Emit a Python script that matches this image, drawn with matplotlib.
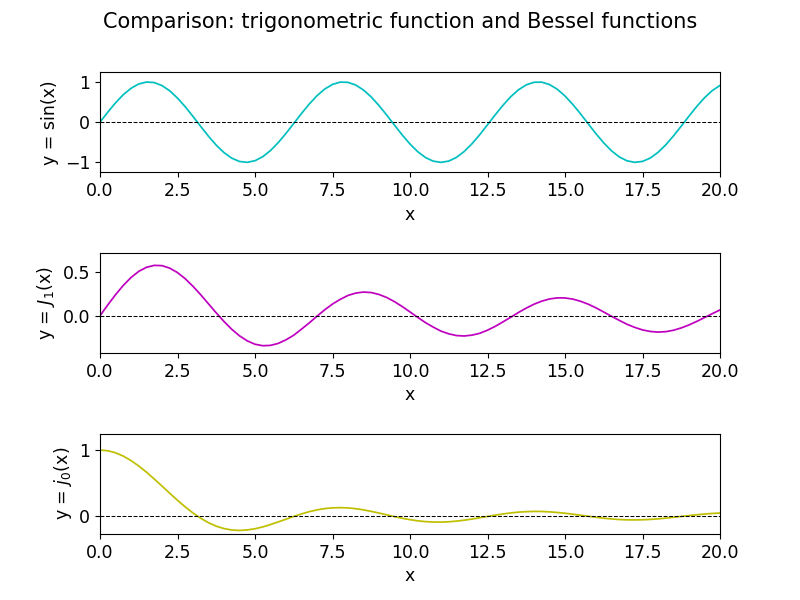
import numpy as np
import matplotlib
matplotlib.use("Agg")
import matplotlib.pyplot as plt

# sample positions, every 0.25 from 0 to 20
x_vals = [i * 0.25 for i in range(81)]

sin_vals = [
    0.000, 0.247, 0.479, 0.682, 0.841, 0.949, 0.997, 0.984, 0.909, 0.778,
    0.598, 0.382, 0.141, -0.108, -0.351, -0.572, -0.757, -0.895, -0.978, -0.999,
    -0.959, -0.859, -0.706, -0.508, -0.279, -0.033, 0.215, 0.450, 0.657, 0.823,
    0.938, 0.995, 0.989, 0.922, 0.798, 0.625, 0.412, 0.174, -0.075, -0.320,
    -0.544, -0.735, -0.880, -0.970, -1.000, -0.968, -0.875, -0.729, -0.537, -0.311,
    -0.066, 0.183, 0.420, 0.632, 0.804, 0.926, 0.991, 0.994, 0.935, 0.818,
    0.650, 0.442, 0.207, -0.042, -0.288, -0.516, -0.712, -0.864, -0.961, -0.999,
    -0.976, -0.893, -0.751, -0.565, -0.342, -0.099, 0.150, 0.390, 0.606, 0.784,
    0.913,
]

j1_vals = [
    0.000, 0.124, 0.242, 0.349, 0.440, 0.511, 0.558, 0.580, 0.577, 0.548,
    0.497, 0.426, 0.339, 0.241, 0.137, 0.033, -0.066, -0.156, -0.231, -0.289,
    -0.328, -0.345, -0.341, -0.318, -0.277, -0.224, -0.154, -0.082, -0.005, 0.069,
    0.135, 0.189, 0.234, 0.261, 0.273, 0.267, 0.245, 0.210, 0.162, 0.106,
    0.044, -0.019, -0.079, -0.131, -0.177, -0.208, -0.228, -0.233, -0.223, -0.202,
    -0.166, -0.122, -0.070, -0.017, 0.038, 0.088, 0.133, 0.168, 0.193, 0.206,
    0.205, 0.192, 0.167, 0.133, 0.091, 0.043, -0.006, -0.053, -0.098, -0.134,
    -0.163, -0.181, -0.188, -0.183, -0.167, -0.140, -0.106, -0.065, -0.021, 0.024,
    0.067,
]

sj0_vals = [
    1.000, 0.990, 0.959, 0.909, 0.841, 0.759, 0.665, 0.562, 0.455, 0.346,
    0.239, 0.139, 0.047, -0.033, -0.100, -0.153, -0.189, -0.211, -0.217, -0.210,
    -0.192, -0.164, -0.128, -0.088, -0.047, -0.005, 0.033, 0.067, 0.094, 0.114,
    0.125, 0.128, 0.124, 0.112, 0.094, 0.071, 0.046, 0.019, -0.008, -0.033,
    -0.054, -0.072, -0.084, -0.090, -0.091, -0.086, -0.076, -0.062, -0.045, -0.025,
    -0.005, 0.014, 0.032, 0.048, 0.060, 0.067, 0.071, 0.070, 0.064, 0.055,
    0.043, 0.029, 0.013, -0.003, -0.018, -0.032, -0.043, -0.052, -0.057, -0.058,
    -0.056, -0.050, -0.042, -0.031, -0.018, -0.005, 0.008, 0.020, 0.031, 0.040,
    0.046,
]

series = [
    (sin_vals, "c", "y = sin(x)"),
    (j1_vals, "m", "y = $J_1$(x)"),
    (sj0_vals, "y", "y = $j_0$(x)"),
]

fig, axes = plt.subplots(3, 1, figsize=(8, 6), dpi=100)
fig.subplots_adjust(hspace=0.8)
fig.suptitle("Comparison: trigonometric function and Bessel functions", fontsize=15)

for ax, (vals, color, label) in zip(axes, series):
    X = np.array(x_vals)
    Y = np.array(vals)
    ax.plot(X, Y, color=color, linewidth=1.25)
    ax.axhline(0, color="k", linestyle="--", linewidth=0.75)
    ax.set_xlim(0, 20)
    ax.set_ylim(1.25 * Y.min(), 1.25 * Y.max())
    ax.set_xlabel("x", fontsize=12.5)
    ax.set_ylabel(label, fontsize=12.5)
    ax.tick_params(labelsize=12.5)

plt.savefig("out.png", dpi=100)
